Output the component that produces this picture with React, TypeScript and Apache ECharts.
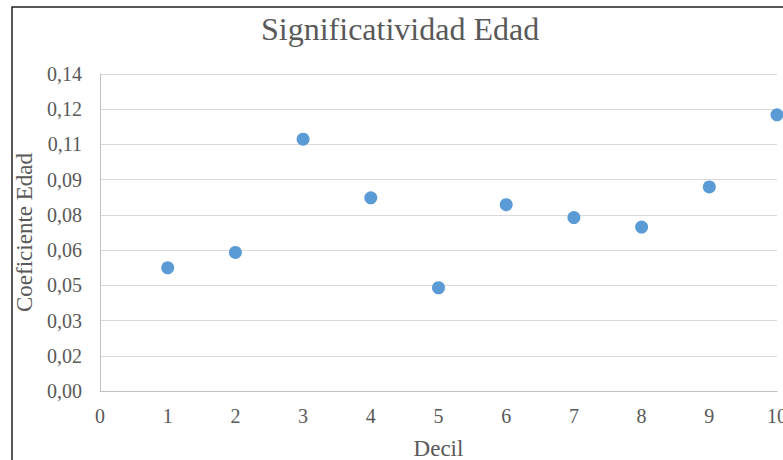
import React, { useEffect, useRef } from "react";
import * as echarts from "echarts";

const deciles = [1, 2, 3, 4, 5, 6, 7, 8, 9, 10];
const coeficientes = [0.0544, 0.0612, 0.1112, 0.0853, 0.0456, 0.0823, 0.0766, 0.0724, 0.0901, 0.122];
const titleText = "Significatividad Edad";
const xName = "Decil";
const yName = "Coeficiente Edad";
const yMax = 0.14;
const ySteps = 9;

export default function App() {
  const ref = useRef<HTMLDivElement>(null);
  useEffect(() => {
    document.body.style.margin = "0";
    const chart = echarts.init(ref.current!, undefined, { renderer: "svg" });
    const font = "'Liberation Serif', 'Times New Roman', serif";
    chart.setOption({
      animation: false,
      backgroundColor: "#ffffff",
      textStyle: { fontFamily: font },
      title: {
        text: titleText,
        left: 256,
        top: 8,
        textStyle: { fontFamily: font, fontSize: 32, fontWeight: "normal", color: "#595959" },
      },
      graphic: [
        {
          type: "rect",
          shape: { x: 12, y: 7, width: 800, height: 500 },
          style: { fill: "none", stroke: "#222", lineWidth: 1.5 },
          silent: true,
        },
      ],
      grid: { left: 100, right: 6, top: 74, bottom: 69, outerBoundsMode: "none", containLabel: false },
      xAxis: {
        type: "value",
        min: 0,
        max: 10,
        interval: 1,
        name: xName,
        nameLocation: "middle",
        nameGap: 46,
        nameTextStyle: { fontFamily: font, fontSize: 23, color: "#595959" },
        axisLine: { show: true, onZero: false, lineStyle: { color: "#bfbfbf", width: 1 } },
        axisTick: { show: false },
        splitLine: { show: false },
        axisLabel: { fontFamily: font, fontSize: 20, color: "#595959", margin: 15 },
      },
      yAxis: {
        type: "value",
        min: 0,
        max: yMax,
        interval: yMax / ySteps,
        name: yName,
        nameLocation: "middle",
        nameGap: 61,
        nameTextStyle: { fontFamily: font, fontSize: 23, color: "#595959" },
        axisLine: { show: true, lineStyle: { color: "#bfbfbf", width: 1 } },
        axisTick: { show: false },
        splitLine: { show: true, lineStyle: { color: "#d9d9d9", width: 1 } },
        axisLabel: {
          fontFamily: font,
          fontSize: 20,
          color: "#595959",
          margin: 18,
          formatter: (v: number) => v.toFixed(2).replace(".", ","),
        },
      },
      series: [
        {
          type: "scatter",
          data: deciles.map((d, i) => [d, coeficientes[i]]),
          symbol: "circle",
          symbolSize: 13,
          itemStyle: { color: "#5b9bd5", opacity: 1 },
        },
      ],
    });
    return () => chart.dispose();
  }, []);
  return <div ref={ref} style={{ width: 783, height: 460 }} />;
}
